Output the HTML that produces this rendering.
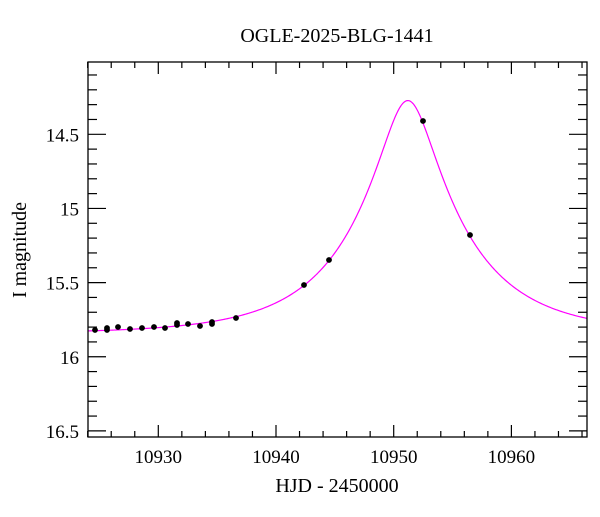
<!DOCTYPE html>
<html><head><style>
body{margin:0;background:#fff;}
svg text{font-family:"Liberation Serif",serif;fill:#000;}
</style></head><body>
<svg id="s" width="600" height="512" xmlns="http://www.w3.org/2000/svg">
<rect x="0" y="0" width="600" height="512" fill="#fff"/>
<text x="337" y="42" font-size="20" text-anchor="middle">OGLE-2025-BLG-1441</text>
<text x="337" y="492" font-size="20" text-anchor="middle">HJD - 2450000</text>
<text transform="translate(26,250) rotate(-90)" font-size="20" text-anchor="middle">I magnitude</text>
<g id="ax" stroke="#000" stroke-width="1.2" fill="none"></g>
<g id="lab" font-size="19"></g>
<path id="curve" fill="none" stroke="#ff00ff" stroke-width="1.2"/>
<g id="pts" fill="#000"></g>
<rect x="88" y="62" width="499" height="375" fill="none" stroke="#000" stroke-width="1.3"/>
</svg>
<script>
var L=88,R=587,T=62,B=437;
function X(t){return 158.3+(t-10930)*11.77;}
function Y(m){return 134.3+(m-14.5)*148.3;}
var ax=document.getElementById('ax'),lab=document.getElementById('lab'),s='';
for(var t=10924;t<=10966;t+=2){var x=X(t),maj=(t%10==0),l=maj?12:6;
s+='<line x1="'+x+'" y1="'+B+'" x2="'+x+'" y2="'+(B-l)+'"/><line x1="'+x+'" y1="'+T+'" x2="'+x+'" y2="'+(T+l)+'"/>';
if(maj)lab.innerHTML+='<text x="'+x+'" y="463" text-anchor="middle">'+t+'</text>';}
for(var i=141;i<=165;i++){var m=i/10,y=Y(m),maj=(i%5==0),l=maj?18:9;
s+='<line x1="'+L+'" y1="'+y+'" x2="'+(L+l)+'" y2="'+y+'"/><line x1="'+R+'" y1="'+y+'" x2="'+(R-l)+'" y2="'+y+'"/>';
if(maj)lab.innerHTML+='<text x="79" y="'+(y+7)+'" text-anchor="end">'+(i%10==0?(i/10):m.toFixed(1))+'</text>';}
ax.innerHTML=s;
var t0=10951.2,u0=0.24,tE=9.2,base=15.845,d='';
for(var px=L;px<=R;px+=1){var t=10930+(px-158.3)/11.77,tau=(t-t0)/tE,u=Math.sqrt(u0*u0+tau*tau),A=(u*u+2)/(u*Math.sqrt(u*u+4)),m=base-2.5*Math.log10(A);
d+=(px==L?'M':'L')+px+' '+Y(m).toFixed(2);}
document.getElementById('curve').setAttribute('d',d);
var P=[[95,330],[107,330],[107,328],[118,327],[130,329],[142,328],[154,327],[165,328],[177,323],[177,325],[188,324],[200,326],[212,322],[212,324],[236,318],[304,285],[329,260],[423,121],[470,235]],h='';
P.forEach(function(p){h+='<circle cx="'+p[0]+'" cy="'+p[1]+'" r="2.9"/>';});
document.getElementById('pts').innerHTML=h;
</script>
</body></html>
